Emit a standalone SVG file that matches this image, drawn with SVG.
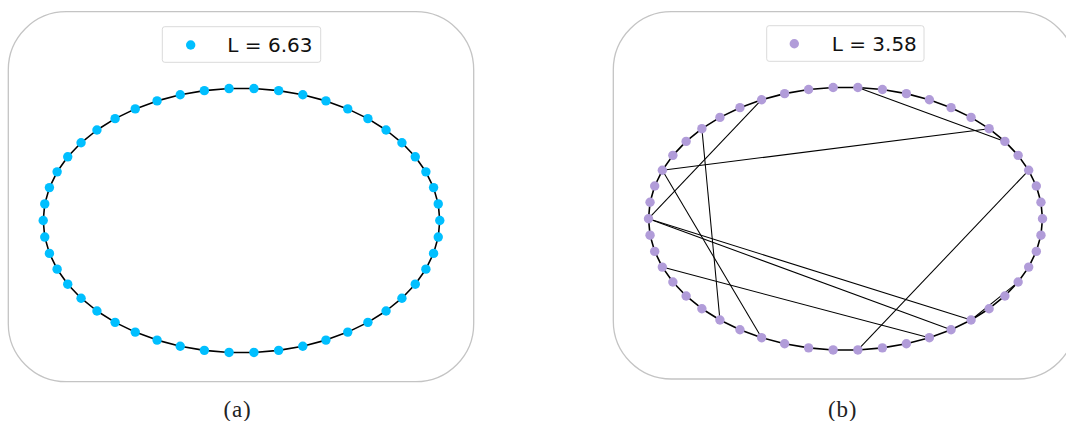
<svg xmlns="http://www.w3.org/2000/svg" width="1066" height="421" viewBox="0 0 1066 421">
<style>
.frame{fill:#fff;stroke:#c4c4c4;stroke-width:1.3}
.legend{fill:#fff;stroke:#dadada;stroke-width:1}
.ltxt{font-family:"DejaVu Sans",sans-serif;font-size:20px;fill:#111}
.cap{font-family:"Liberation Serif",serif;font-size:23px;fill:#222;text-anchor:middle;letter-spacing:0.8px}
.ring{fill:none;stroke:#000;stroke-width:1.6;stroke-linejoin:round}
.chord{stroke:#000;stroke-width:1.05;fill:none}
.na circle{fill:#00bfff}
.nb circle{fill:#b19cd9}
</style>
<rect width="1066" height="421" fill="#fff"/>
<rect class="frame" x="8.3" y="11.7" width="465.4" height="370" rx="58" ry="58"/>
<rect class="frame" x="613.3" y="11.7" width="462.7" height="367.3" rx="58" ry="58"/>
<g id="legend-a">
<rect class="legend" x="162.3" y="26.7" width="158.4" height="35.6" rx="2.5"/>
<circle cx="190.7" cy="45" r="4.7" fill="#00bfff"/>
<text class="ltxt" x="227.3" y="51.5">L = 6.63</text>
</g>
<g id="legend-b">
<rect class="legend" x="766.7" y="25.7" width="157.3" height="35.6" rx="2.5"/>
<circle cx="794.3" cy="43.7" r="4.7" fill="#b19cd9"/>
<text class="ltxt" x="831.7" y="50.5">L = 3.58</text>
</g>
<g id="connectors">
<polygon class="ring" points="439.8,220.5 438.24,203.93 433.57,187.62 425.88,171.83 415.27,156.81 401.93,142.79 386.05,130 367.9,118.64 347.75,108.88 325.93,100.88 302.78,94.77 278.66,90.64 253.95,88.56 229.05,88.56 204.34,90.64 180.22,94.77 157.07,100.88 135.25,108.88 115.1,118.64 96.95,130 81.07,142.79 67.73,156.81 57.12,171.83 49.43,187.62 44.76,203.93 43.2,220.5 44.76,237.07 49.43,253.38 57.12,269.17 67.73,284.19 81.07,298.21 96.95,311 115.1,322.36 135.25,332.12 157.07,340.12 180.22,346.23 204.34,350.36 229.05,352.44 253.95,352.44 278.66,350.36 302.78,346.23 325.93,340.12 347.75,332.12 367.9,322.36 386.05,311 401.93,298.21 415.27,284.19 425.88,269.17 433.57,253.38 438.24,237.07"/>
<polygon class="ring" points="1042.5,218.7 1040.95,202.22 1036.31,186 1028.67,170.29 1018.13,155.35 1004.88,141.41 989.11,128.68 971.07,117.38 951.06,107.67 929.38,99.71 906.38,93.64 882.41,89.53 857.87,87.46 833.13,87.46 808.59,89.53 784.62,93.64 761.62,99.71 739.94,107.67 719.93,117.38 701.89,128.68 686.12,141.41 672.87,155.35 662.33,170.29 654.69,186 650.05,202.22 648.5,218.7 650.05,235.18 654.69,251.4 662.33,267.11 672.87,282.05 686.12,295.99 701.89,308.72 719.93,320.02 739.94,329.73 761.62,337.69 784.62,343.76 808.59,347.87 833.13,349.94 857.87,349.94 882.41,347.87 906.38,343.76 929.38,337.69 951.06,329.73 971.07,320.02 989.11,308.72 1004.88,295.99 1018.13,282.05 1028.67,267.11 1036.31,251.4 1040.95,235.18"/>
<line class="chord" x1="857.87" y1="87.46" x2="1004.88" y2="141.41"/>
<line class="chord" x1="662.33" y1="170.29" x2="989.11" y2="128.68"/>
<line class="chord" x1="761.62" y1="99.71" x2="648.5" y2="218.7"/>
<line class="chord" x1="701.89" y1="128.68" x2="719.93" y2="320.02"/>
<line class="chord" x1="662.33" y1="170.29" x2="761.62" y2="337.69"/>
<line class="chord" x1="648.5" y1="218.7" x2="971.07" y2="320.02"/>
<line class="chord" x1="648.5" y1="218.7" x2="951.06" y2="329.73"/>
<line class="chord" x1="662.33" y1="267.11" x2="929.38" y2="337.69"/>
<line class="chord" x1="971.07" y1="320.02" x2="1018.13" y2="282.05"/>
<line class="chord" x1="1028.67" y1="170.29" x2="857.87" y2="349.94"/>
</g>
<g class="na">
<g id="a0"><circle cx="439.8" cy="220.5" r="4.7"/></g>
<g id="a1"><circle cx="438.24" cy="203.93" r="4.7"/></g>
<g id="a2"><circle cx="433.57" cy="187.62" r="4.7"/></g>
<g id="a3"><circle cx="425.88" cy="171.83" r="4.7"/></g>
<g id="a4"><circle cx="415.27" cy="156.81" r="4.7"/></g>
<g id="a5"><circle cx="401.93" cy="142.79" r="4.7"/></g>
<g id="a6"><circle cx="386.05" cy="130" r="4.7"/></g>
<g id="a7"><circle cx="367.9" cy="118.64" r="4.7"/></g>
<g id="a8"><circle cx="347.75" cy="108.88" r="4.7"/></g>
<g id="a9"><circle cx="325.93" cy="100.88" r="4.7"/></g>
<g id="a10"><circle cx="302.78" cy="94.77" r="4.7"/></g>
<g id="a11"><circle cx="278.66" cy="90.64" r="4.7"/></g>
<g id="a12"><circle cx="253.95" cy="88.56" r="4.7"/></g>
<g id="a13"><circle cx="229.05" cy="88.56" r="4.7"/></g>
<g id="a14"><circle cx="204.34" cy="90.64" r="4.7"/></g>
<g id="a15"><circle cx="180.22" cy="94.77" r="4.7"/></g>
<g id="a16"><circle cx="157.07" cy="100.88" r="4.7"/></g>
<g id="a17"><circle cx="135.25" cy="108.88" r="4.7"/></g>
<g id="a18"><circle cx="115.1" cy="118.64" r="4.7"/></g>
<g id="a19"><circle cx="96.95" cy="130" r="4.7"/></g>
<g id="a20"><circle cx="81.07" cy="142.79" r="4.7"/></g>
<g id="a21"><circle cx="67.73" cy="156.81" r="4.7"/></g>
<g id="a22"><circle cx="57.12" cy="171.83" r="4.7"/></g>
<g id="a23"><circle cx="49.43" cy="187.62" r="4.7"/></g>
<g id="a24"><circle cx="44.76" cy="203.93" r="4.7"/></g>
<g id="a25"><circle cx="43.2" cy="220.5" r="4.7"/></g>
<g id="a26"><circle cx="44.76" cy="237.07" r="4.7"/></g>
<g id="a27"><circle cx="49.43" cy="253.38" r="4.7"/></g>
<g id="a28"><circle cx="57.12" cy="269.17" r="4.7"/></g>
<g id="a29"><circle cx="67.73" cy="284.19" r="4.7"/></g>
<g id="a30"><circle cx="81.07" cy="298.21" r="4.7"/></g>
<g id="a31"><circle cx="96.95" cy="311" r="4.7"/></g>
<g id="a32"><circle cx="115.1" cy="322.36" r="4.7"/></g>
<g id="a33"><circle cx="135.25" cy="332.12" r="4.7"/></g>
<g id="a34"><circle cx="157.07" cy="340.12" r="4.7"/></g>
<g id="a35"><circle cx="180.22" cy="346.23" r="4.7"/></g>
<g id="a36"><circle cx="204.34" cy="350.36" r="4.7"/></g>
<g id="a37"><circle cx="229.05" cy="352.44" r="4.7"/></g>
<g id="a38"><circle cx="253.95" cy="352.44" r="4.7"/></g>
<g id="a39"><circle cx="278.66" cy="350.36" r="4.7"/></g>
<g id="a40"><circle cx="302.78" cy="346.23" r="4.7"/></g>
<g id="a41"><circle cx="325.93" cy="340.12" r="4.7"/></g>
<g id="a42"><circle cx="347.75" cy="332.12" r="4.7"/></g>
<g id="a43"><circle cx="367.9" cy="322.36" r="4.7"/></g>
<g id="a44"><circle cx="386.05" cy="311" r="4.7"/></g>
<g id="a45"><circle cx="401.93" cy="298.21" r="4.7"/></g>
<g id="a46"><circle cx="415.27" cy="284.19" r="4.7"/></g>
<g id="a47"><circle cx="425.88" cy="269.17" r="4.7"/></g>
<g id="a48"><circle cx="433.57" cy="253.38" r="4.7"/></g>
<g id="a49"><circle cx="438.24" cy="237.07" r="4.7"/></g>
</g>
<g class="nb">
<g id="b0"><circle cx="1042.5" cy="218.7" r="4.7"/></g>
<g id="b1"><circle cx="1040.95" cy="202.22" r="4.7"/></g>
<g id="b2"><circle cx="1036.31" cy="186" r="4.7"/></g>
<g id="b3"><circle cx="1028.67" cy="170.29" r="4.7"/></g>
<g id="b4"><circle cx="1018.13" cy="155.35" r="4.7"/></g>
<g id="b5"><circle cx="1004.88" cy="141.41" r="4.7"/></g>
<g id="b6"><circle cx="989.11" cy="128.68" r="4.7"/></g>
<g id="b7"><circle cx="971.07" cy="117.38" r="4.7"/></g>
<g id="b8"><circle cx="951.06" cy="107.67" r="4.7"/></g>
<g id="b9"><circle cx="929.38" cy="99.71" r="4.7"/></g>
<g id="b10"><circle cx="906.38" cy="93.64" r="4.7"/></g>
<g id="b11"><circle cx="882.41" cy="89.53" r="4.7"/></g>
<g id="b12"><circle cx="857.87" cy="87.46" r="4.7"/></g>
<g id="b13"><circle cx="833.13" cy="87.46" r="4.7"/></g>
<g id="b14"><circle cx="808.59" cy="89.53" r="4.7"/></g>
<g id="b15"><circle cx="784.62" cy="93.64" r="4.7"/></g>
<g id="b16"><circle cx="761.62" cy="99.71" r="4.7"/></g>
<g id="b17"><circle cx="739.94" cy="107.67" r="4.7"/></g>
<g id="b18"><circle cx="719.93" cy="117.38" r="4.7"/></g>
<g id="b19"><circle cx="701.89" cy="128.68" r="4.7"/></g>
<g id="b20"><circle cx="686.12" cy="141.41" r="4.7"/></g>
<g id="b21"><circle cx="672.87" cy="155.35" r="4.7"/></g>
<g id="b22"><circle cx="662.33" cy="170.29" r="4.7"/></g>
<g id="b23"><circle cx="654.69" cy="186" r="4.7"/></g>
<g id="b24"><circle cx="650.05" cy="202.22" r="4.7"/></g>
<g id="b25"><circle cx="648.5" cy="218.7" r="4.7"/></g>
<g id="b26"><circle cx="650.05" cy="235.18" r="4.7"/></g>
<g id="b27"><circle cx="654.69" cy="251.4" r="4.7"/></g>
<g id="b28"><circle cx="662.33" cy="267.11" r="4.7"/></g>
<g id="b29"><circle cx="672.87" cy="282.05" r="4.7"/></g>
<g id="b30"><circle cx="686.12" cy="295.99" r="4.7"/></g>
<g id="b31"><circle cx="701.89" cy="308.72" r="4.7"/></g>
<g id="b32"><circle cx="719.93" cy="320.02" r="4.7"/></g>
<g id="b33"><circle cx="739.94" cy="329.73" r="4.7"/></g>
<g id="b34"><circle cx="761.62" cy="337.69" r="4.7"/></g>
<g id="b35"><circle cx="784.62" cy="343.76" r="4.7"/></g>
<g id="b36"><circle cx="808.59" cy="347.87" r="4.7"/></g>
<g id="b37"><circle cx="833.13" cy="349.94" r="4.7"/></g>
<g id="b38"><circle cx="857.87" cy="349.94" r="4.7"/></g>
<g id="b39"><circle cx="882.41" cy="347.87" r="4.7"/></g>
<g id="b40"><circle cx="906.38" cy="343.76" r="4.7"/></g>
<g id="b41"><circle cx="929.38" cy="337.69" r="4.7"/></g>
<g id="b42"><circle cx="951.06" cy="329.73" r="4.7"/></g>
<g id="b43"><circle cx="971.07" cy="320.02" r="4.7"/></g>
<g id="b44"><circle cx="989.11" cy="308.72" r="4.7"/></g>
<g id="b45"><circle cx="1004.88" cy="295.99" r="4.7"/></g>
<g id="b46"><circle cx="1018.13" cy="282.05" r="4.7"/></g>
<g id="b47"><circle cx="1028.67" cy="267.11" r="4.7"/></g>
<g id="b48"><circle cx="1036.31" cy="251.4" r="4.7"/></g>
<g id="b49"><circle cx="1040.95" cy="235.18" r="4.7"/></g>
</g>
<text class="cap" x="237.5" y="416.5">(a)</text>
<text class="cap" x="842.7" y="416.5">(b)</text>
</svg>
